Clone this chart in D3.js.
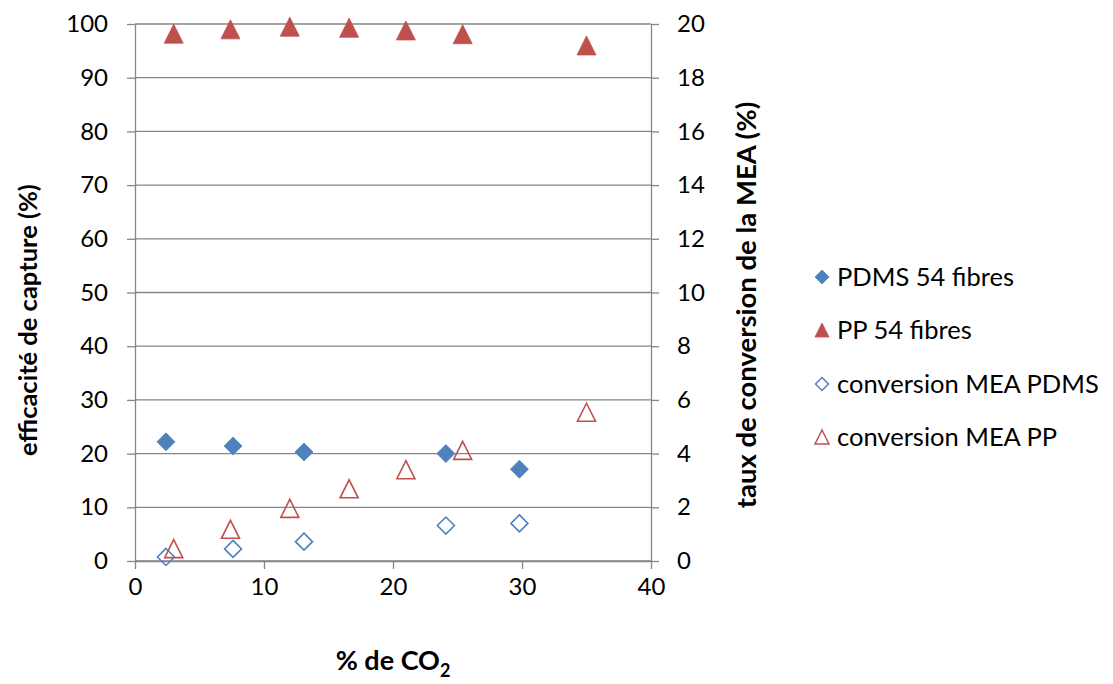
<!DOCTYPE html>
<html><head><meta charset="utf-8">
<script src="https://cdn.jsdelivr.net/npm/d3@7"></script>
<style>body{margin:0;background:#fff}svg{display:block}text{font-family:Lato,"Open Sans",sans-serif}</style>
</head><body><svg id="c" width="1113" height="684"></svg>
<script>
// data
const pdmsX = [2.4, 7.6, 13.1, 24.1, 29.8];
const pdmsCapture = [22.2, 21.4, 20.3, 20.0, 17.1];
const pdmsConversion = [0.15, 0.45, 0.72, 1.32, 1.40];
const ppX = [3.0, 7.4, 12.0, 16.6, 21.0, 25.4, 35.0];
const ppCapture = [98.2, 99.0, 99.5, 99.3, 98.8, 98.1, 96.0];
const ppConversion = [0.46, 1.18, 1.96, 2.69, 3.40, 4.12, 5.54];
const xTicks = [0, 10, 20, 30, 40];
const yLeftTicks = [0,10,20,30,40,50,60,70,80,90,100];
const yRightTicks = [0,2,4,6,8,10,12,14,16,18,20];
const seriesNames = ["PDMS 54 fibres","PP 54 fibres","conversion MEA PDMS","conversion MEA PP"];

const blue = "#4F81BD", red = "#C0504D", grid = "#868686";
const svg = d3.select("#c");
const L = 135, R = 651, T = 24, B = 561;
const x = d3.scaleLinear().domain([0,40]).range([L,R]);
const yL = d3.scaleLinear().domain([0,100]).range([B,T]);
const yR = d3.scaleLinear().domain([0,20]).range([B,T]);

// gridlines
svg.append("g").selectAll("line").data(yLeftTicks).join("line")
  .attr("x1",L).attr("x2",R).attr("y1",d=>yL(d)).attr("y2",d=>yL(d))
  .attr("stroke",grid).attr("stroke-width",1.3);

function styleAxis(g){
  g.select(".domain").attr("stroke",grid).attr("stroke-width",1.3);
  g.selectAll(".tick line").attr("stroke",grid).attr("stroke-width",1.3);
  g.selectAll(".tick text").attr("fill","#000").style("font-size","24px").style("font-family","Lato");
}
const ax = svg.append("g").attr("transform",`translate(0,${B})`)
  .call(d3.axisBottom(x).tickValues(xTicks).tickSize(8).tickSizeOuter(0).tickPadding(9));
styleAxis(ax);
const al = svg.append("g").attr("transform",`translate(${L},0)`)
  .call(d3.axisLeft(yL).tickValues(yLeftTicks).tickSize(8).tickSizeOuter(0).tickPadding(19));
styleAxis(al);
const ar = svg.append("g").attr("transform",`translate(${R},0)`)
  .call(d3.axisRight(yR).tickValues(yRightTicks).tickSize(8).tickSizeOuter(0).tickPadding(18));
styleAxis(ar);

const diamond = s => `M0,${-s}L${s},0L0,${s}L${-s},0Z`;
const tri = s => `M0,${-s}L${s*1.0},${s}L${-s*1.0},${s}Z`;

function plot(xs, ys, scale, path, filled, color){
  svg.append("g").selectAll("path").data(xs).join("path")
    .attr("transform",(d,i)=>`translate(${x(d)},${scale(ys[i])})`)
    .attr("d",path)
    .attr("fill",filled?color:"none")
    .attr("stroke",color).attr("stroke-width",filled?0.8:1.6);
}
plot(pdmsX, pdmsConversion, yR, diamond(8.5), false, blue);
plot(ppX, ppConversion, yR, tri(9), false, red);
plot(pdmsX, pdmsCapture, yL, diamond(9), true, blue);
plot(ppX, ppCapture, yL, tri(9.5), true, red);

// axis titles
svg.append("text").attr("x",393).attr("y",670).attr("text-anchor","middle")
  .style("font-weight","bold").style("font-size","27px")
  .html('% de CO<tspan dy="7" style="font-size:18px">2</tspan>');
svg.append("text").attr("transform","translate(37,320) rotate(-90)").attr("text-anchor","middle")
  .style("font-weight","bold").style("font-size","25.5px").text("efficacité de capture (%)");
svg.append("text").attr("transform","translate(756,305) rotate(-90)").attr("text-anchor","middle")
  .style("font-weight","bold").style("font-size","27.5px").text("taux de conversion de la MEA (%)");

// legend
const legY = [277, 330, 384, 437];
const legShapes = [[diamond(7),true,blue],[tri(7),true,red],[diamond(6.5),false,blue],[tri(7),false,red]];
const lg = svg.append("g");
seriesNames.forEach((n,i)=>{
  const [p,f,c] = legShapes[i];
  lg.append("path").attr("transform",`translate(822,${legY[i]})`).attr("d",p)
    .attr("fill",f?c:"none").attr("stroke",c).attr("stroke-width",f?0.8:1.5);
  lg.append("text").attr("x",837).attr("y",legY[i]).attr("dy","0.35em")
    .style("font-size","25.5px").text(n);
});
</script></body></html>
